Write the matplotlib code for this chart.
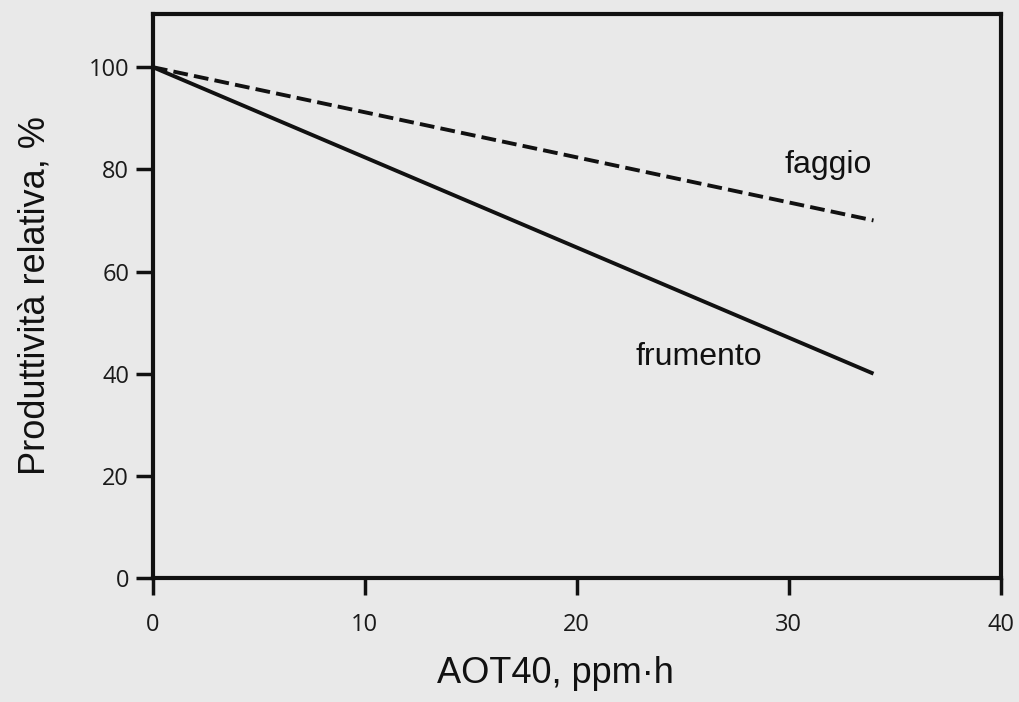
import matplotlib
matplotlib.use("Agg")
import matplotlib.pyplot as plt

# data
frumento_x = [0, 34]
frumento_y = [100, 40]
faggio_x = [0, 34]
faggio_y = [100, 70]
xticks = [0, 10, 20, 30, 40]
yticks = [0, 20, 40, 60, 80, 100]

bg = "#e9e9e9"
fig = plt.figure(figsize=(10.19, 7.02), dpi=100, facecolor=bg)
ax = fig.add_axes([0.150, 0.1766, 0.832, 0.8034], facecolor=bg)

ax.plot(frumento_x, frumento_y, color="#111111", lw=2.8, solid_capstyle="butt")
ax.plot(faggio_x, faggio_y, color="#111111", lw=2.8, dashes=(3.8, 1.6))

ax.set_xlim(0, 40)
ax.set_ylim(0, 110.4)
ax.set_xticks(xticks)
ax.set_yticks(yticks)
ax.tick_params(direction="out", length=12, width=2.5, color="#111111",
               labelsize=17, labelcolor="#1a1a1a")
ax.tick_params(axis="x", pad=13)
ax.tick_params(axis="y", pad=5)
for lab in ax.get_xticklabels() + ax.get_yticklabels():
    lab.set_family("Open Sans")
for s in ax.spines.values():
    s.set_linewidth(3)
    s.set_color("#111111")

ax.set_xlabel("AOT40, ppm·h", fontsize=26, family="Liberation Sans", labelpad=14,
              color="#111111", x=0.475)
ax.set_ylabel("Produttività relativa, %", fontsize=26, family="Liberation Sans", labelpad=26,
              color="#111111")

ax.text(29.8, 79.3, "faggio", fontsize=23, family="Liberation Sans", color="#111111", va="baseline")
ax.text(22.75, 41.7, "frumento", fontsize=23, family="Liberation Sans", color="#111111", va="baseline")

fig.savefig("out.png", dpi=100, facecolor=bg)
